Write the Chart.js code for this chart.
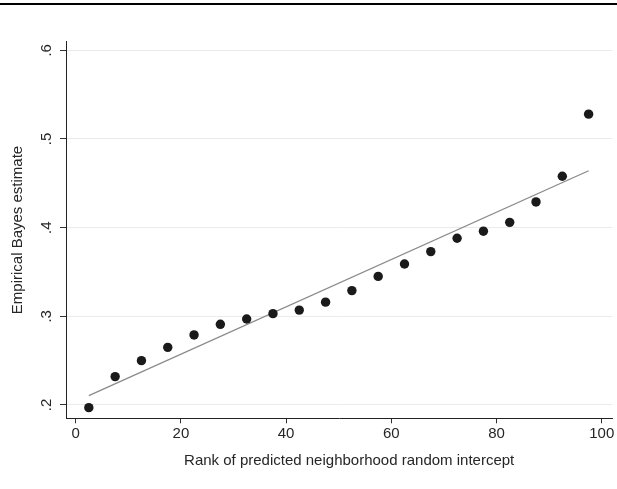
<!DOCTYPE html>
<html>
<head>
<meta charset="utf-8">
<script src="https://cdn.jsdelivr.net/npm/chart.js@4/dist/chart.umd.min.js"></script>
<style>
    body { margin: 0; background: #fff; }
    #wrap { position: relative; width: 617px; height: 489px; }
    #rule { position: absolute; left: 0; top: 3px; width: 617px; height: 2px; background: #000; }
</style>
</head>
<body>
<div id="wrap">
    <canvas id="chart" width="617" height="489"></canvas>
    <div id="rule"></div>
</div>
<script>
// Rank groups (percentile midpoints) and empirical Bayes estimates
const rankMid = [2.5, 7.5, 12.5, 17.5, 22.5, 27.5, 32.5, 37.5, 42.5, 47.5,
                 52.5, 57.5, 62.5, 67.5, 72.5, 77.5, 82.5, 87.5, 92.5, 97.5];
const ebEstimate = [0.197, 0.232, 0.250, 0.265, 0.279, 0.291, 0.297, 0.303, 0.307, 0.316,
                    0.329, 0.345, 0.359, 0.373, 0.388, 0.396, 0.406, 0.429, 0.458, 0.528];

// fitted line end points
const fitX = [2.5, 97.5];
const fitY = [0.2105, 0.4642];

const xTicks = [0, 20, 40, 60, 80, 100];
const yTicks = [0.2, 0.3, 0.4, 0.5, 0.6];
const yTickLabels = ['.2', '.3', '.4', '.5', '.6'];
const xTitle = 'Rank of predicted neighborhood random intercept';

const FONT = "'Liberation Sans', Arial, sans-serif";
const TEXT = '#262626';

// y tick labels drawn rotated (reading bottom to top), x title a bit right of centre like the original
const axisText = {
    id: 'axisText',
    afterDraw(chart) {
        const ctx = chart.ctx;
        const y = chart.scales.y;
        const x = chart.scales.x;
        ctx.save();
        ctx.font = '15px ' + FONT;
        ctx.fillStyle = TEXT;
        ctx.textAlign = 'center';
        ctx.textBaseline = 'alphabetic';
        yTicks.forEach((v, i) => {
            const py = y.getPixelForValue(v);
            ctx.save();
            ctx.translate(51, py);
            ctx.rotate(-Math.PI / 2);
            ctx.fillText(yTickLabels[i], 0, 0);
            ctx.restore();
        });
        ctx.textBaseline = 'middle';
        ctx.fillText(xTitle, (x.left + x.right) / 2 + 10, 461);
        ctx.restore();
    }
};

new Chart(document.getElementById('chart').getContext('2d'), {
    type: 'scatter',
    data: {
        datasets: [
            {
                label: 'EB estimate',
                data: rankMid.map((x, i) => ({ x: x, y: ebEstimate[i] })),
                backgroundColor: '#1a1a1a',
                borderWidth: 0,
                pointRadius: 4.7,
                order: 1
            },
            {
                label: 'Fit',
                data: fitX.map((x, i) => ({ x: x, y: fitY[i] })),
                showLine: true,
                borderColor: '#8a8a8a',
                borderWidth: 1.3,
                pointRadius: 0,
                order: 2
            }
        ]
    },
    options: {
        responsive: false,
        devicePixelRatio: 1,
        animation: false,
        layout: { padding: { left: 0, right: 3, top: 41.7, bottom: 0 } },
        plugins: {
            legend: { display: false },
            tooltip: { enabled: false }
        },
        scales: {
            x: {
                type: 'linear',
                min: -1.84,
                max: 102.0,
                afterBuildTicks: scale => { scale.ticks = xTicks.map(v => ({ value: v })); },
                afterFit: scale => { scale.height = 70.7; },
                grid: { drawOnChartArea: false, tickLength: 5, tickColor: '#333', tickWidth: 1 },
                border: { color: '#222', width: 1 },
                ticks: { color: TEXT, font: { family: FONT, size: 15 }, padding: 2, maxRotation: 0 },
                title: { display: false }
            },
            y: {
                min: 0.185,
                max: 0.6097,
                afterBuildTicks: scale => { scale.ticks = yTicks.map(v => ({ value: v })); },
                afterFit: scale => { scale.width = 66; },
                grid: { color: '#ebebeb', lineWidth: 1, tickLength: 6, tickColor: '#333', tickWidth: 1 },
                border: { color: '#222', width: 1 },
                ticks: { display: false },
                title: {
                    display: true,
                    text: 'Empirical Bayes estimate',
                    color: TEXT,
                    font: { family: FONT, size: 15 },
                    padding: { top: 9, bottom: 0 }
                }
            }
        }
    },
    plugins: [axisText]
});
</script>
</body>
</html>
